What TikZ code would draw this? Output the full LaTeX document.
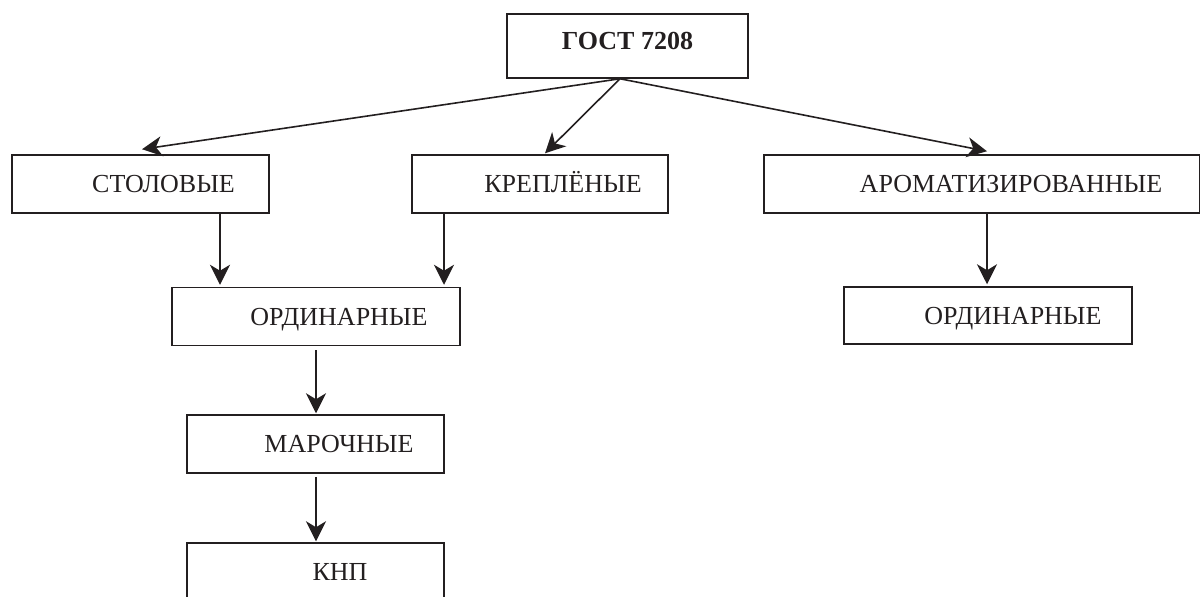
\documentclass[tikz,border=0pt]{standalone}
\usepackage{fontspec}
\setmainfont{Liberation Serif}
\usepackage{xcolor}
\usepackage{tikz}
\usetikzlibrary{arrows.meta,positioning,calc}
\definecolor{wineInk}{HTML}{231F20}

\begin{document}
\begin{tikzpicture}[
  x=0.5pt,y=-0.5pt,
  font=\fontsize{13}{15}\selectfont,
  kind/.style={draw=wineInk,line width=0.75pt,minimum height=29pt,inner sep=0pt},
  lbl/.style={text=wineInk,inner sep=0pt,text height=8.6pt,text depth=0pt},
  arr/.style={-{Stealth[length=10pt,width=10pt,inset=3pt]},line width=0.8pt,draw=wineInk}
]
\useasboundingbox (0,0) rectangle (1200,596);

% Boxes
\node[kind,minimum width=120.5pt,minimum height=32pt] (gost) at (627.5,46) {};
\node[kind,minimum width=128.5pt] (stol) at (140.5,184) {};
\node[kind,minimum width=128pt]   (krep) at (540,184) {};
\node[kind,minimum width=218pt]   (arom) at (982,184) {};
\node[kind,minimum width=144pt]   (ordL) at (316,316.5) {};
\node[kind,minimum width=144pt,minimum height=28.5pt] (ordR) at (988,315.5) {};
\node[kind,minimum width=128.5pt] (mar)  at (315.5,444) {};
\node[kind,minimum width=128.5pt] (knp)  at (315.5,572) {};

% Labels
\node[lbl,font=\fontsize{13}{15}\selectfont\bfseries] (tgost) at ($(gost)+(0,-5)$) {ГОСТ 7208};
\node[lbl] (tstol) at ($(stol)+(23,0)$)   {СТОЛОВЫЕ};
\node[lbl] (tkrep) at ($(krep)+(23,0)$)   {КРЕПЛЁНЫЕ};
\node[lbl] (tarom) at ($(arom)+(29,0)$)   {АРОМАТИЗИРОВАННЫЕ};
\node[lbl] (tordL) at ($(ordL)+(23,0)$)   {ОРДИНАРНЫЕ};
\node[lbl] (tordR) at ($(ordR)+(25,0)$)   {ОРДИНАРНЫЕ};
\node[lbl] (tmar)  at ($(mar)+(23.5,0)$)  {МАРОЧНЫЕ};
\node[lbl] (tknp)  at ($(knp)+(24.5,0)$)  {КНП};

% Arrows from the standard
\draw[arr] ($(gost.south)+(-7.5,0)$) -- ($(stol.north)+(1.5,-5)$);
\draw[arr] ($(gost.south)+(-7.5,0)$) -- ($(krep.north)+(5,-1)$);
\draw[arr] ($(gost.south)+(-7.5,0)$) -- ($(arom.north)+(5,-3)$);

% Vertical arrows
\draw[arr] ($(stol.south)+(79.5,0)$) -- ($(ordL.north)+(-96,-2)$);
\draw[arr] ($(krep.south)+(-96,0)$)  -- ($(ordL.north)+(128,-2)$);
\draw[arr] ($(arom.south)+(5,0)$)    -- ($(ordR.north)+(-1,-2)$);
\draw[arr] ($(ordL.south)+(0,4)$)    -- ($(mar.north)+(0.5,-1)$);
\draw[arr] ($(mar.south)+(0.5,3)$)   -- ($(knp.north)+(0.5,-1)$);
\end{tikzpicture}
\end{document}
